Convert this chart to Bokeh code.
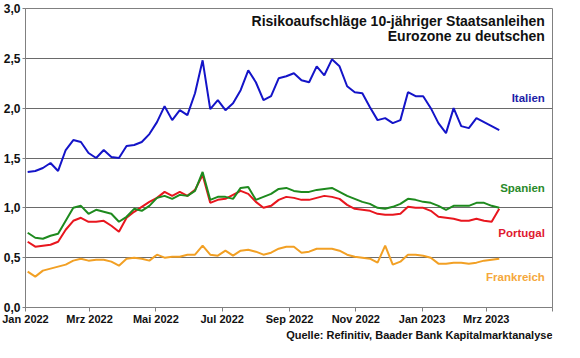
import pandas as pd
from bokeh.plotting import figure
from bokeh.layouts import column
from bokeh.models import Range1d, FixedTicker, Label, ColumnDataSource
from bokeh.embed import file_html
from bokeh.resources import INLINE

# ---- data (weekly readings, spreads in %-points) ----
dates = pd.date_range("2022-01-03", periods=63, freq="7D")

italien = [1.36, 1.37, 1.40, 1.45, 1.37, 1.58, 1.68, 1.66, 1.55, 1.50,
           1.58, 1.51, 1.50, 1.62, 1.63, 1.66, 1.74, 1.86, 2.02, 1.88,
           1.98, 1.93, 2.15, 2.48, 1.99, 2.08, 1.98, 2.05, 2.18, 2.38,
           2.26, 2.08, 2.12, 2.30, 2.32, 2.35, 2.28, 2.26, 2.42, 2.33,
           2.49, 2.42, 2.22, 2.16, 2.15, 2.01, 1.88, 1.90, 1.85, 1.88,
           2.16, 2.12, 2.12, 2.00, 1.85, 1.75, 2.00, 1.82, 1.80, 1.90,
           1.86, 1.82, 1.78]

spanien = [0.75, 0.70, 0.69, 0.72, 0.74, 0.87, 1.00, 1.02, 0.94, 0.98,
           0.96, 0.94, 0.86, 0.91, 0.99, 0.97, 1.02, 1.10, 1.12, 1.09,
           1.13, 1.12, 1.17, 1.36, 1.08, 1.11, 1.11, 1.09, 1.20, 1.21,
           1.08, 1.11, 1.14, 1.19, 1.20, 1.17, 1.16, 1.16, 1.18, 1.19,
           1.20, 1.16, 1.12, 1.09, 1.06, 1.04, 1.00, 0.99, 1.01, 1.04,
           1.09, 1.08, 1.06, 1.05, 1.02, 0.98, 1.02, 1.02, 1.02, 1.05,
           1.05, 1.02, 1.00]

portugal = [0.66, 0.61, 0.62, 0.63, 0.66, 0.78, 0.87, 0.90, 0.86, 0.86,
            0.87, 0.82, 0.76, 0.90, 0.96, 1.01, 1.06, 1.10, 1.16, 1.12,
            1.16, 1.12, 1.18, 1.33, 1.05, 1.08, 1.09, 1.13, 1.17, 1.14,
            1.06, 1.00, 1.02, 1.08, 1.11, 1.10, 1.08, 1.08, 1.10, 1.12,
            1.11, 1.09, 1.03, 0.99, 0.98, 0.97, 0.94, 0.93, 0.93, 0.94,
            1.01, 1.00, 1.00, 0.97, 0.91, 0.90, 0.89, 0.87, 0.87, 0.89,
            0.87, 0.86, 0.99]

frankreich = [0.36, 0.31, 0.37, 0.39, 0.41, 0.43, 0.47, 0.49, 0.47, 0.48,
              0.48, 0.46, 0.42, 0.49, 0.50, 0.49, 0.47, 0.53, 0.50, 0.51,
              0.51, 0.53, 0.53, 0.62, 0.53, 0.52, 0.57, 0.52, 0.57, 0.58,
              0.56, 0.53, 0.55, 0.59, 0.61, 0.61, 0.55, 0.56, 0.59, 0.59,
              0.59, 0.57, 0.53, 0.51, 0.50, 0.49, 0.45, 0.62, 0.43, 0.46,
              0.53, 0.53, 0.52, 0.50, 0.44, 0.44, 0.45, 0.45, 0.44, 0.45,
              0.47, 0.48, 0.49]

x_tick_dates = ["2022-01-01", "2022-03-01", "2022-05-01", "2022-07-01", "2022-09-01",
                "2022-11-01", "2023-01-01", "2023-03-01", "2023-05-01"]
x_tick_labels = ["Jan 2022", "Mrz 2022", "Mai 2022", "Jul 2022", "Sep 2022",
                 "Nov 2022", "Jan 2023", "Mrz 2023", ""]
y_ticks = [0.0, 0.5, 1.0, 1.5, 2.0, 2.5, 3.0]
y_tick_labels = ["0,0", "0,5", "1,0", "1,5", "2,0", "2,5", "3,0"]

title_lines = ["Risikoaufschläge 10-jähriger Staatsanleihen", "Eurozone zu deutschen"]
source_text = "Quelle: Refinitiv, Baader Bank Kapitalmarktanalyse"

series_names = ["Frankreich", "Portugal", "Spanien", "Italien"]
line_colors = ["#F2A024", "#E8161E", "#1E8A1E", "#1414C8"]
label_colors = ["#F5A83C", "#E01830", "#2A8A2A", "#1E1EA8"]
label_y = [0.31, 0.75, 1.20, 2.10]

# ---- plot ----
def ms(d):
    return pd.Timestamp(d).value / 1e6

FONT = "Liberation Sans"

p = figure(width=564, height=327, x_axis_type="datetime",
           output_backend="svg", toolbar_location=None,
           x_range=Range1d(ms("2022-01-01"), ms("2023-05-01")),
           y_range=Range1d(0, 3),
           min_border_left=22, min_border_right=12, min_border_top=8,
           min_border_bottom=18)
p.background_fill_color = "white"
p.border_fill_color = "white"
p.outline_line_color = "#808080"
p.outline_line_width = 1

src = ColumnDataSource(dict(x=dates, fr=frankreich, pt=portugal, es=spanien, it=italien))
for key, col in zip(["fr", "pt", "es", "it"], line_colors):
    p.line("x", key, source=src, line_color=col, line_width=2)

# axes
x_ticks = [ms(d) for d in x_tick_dates]
p.xaxis.ticker = FixedTicker(ticks=x_ticks)
p.xaxis.major_label_overrides = {t: l for t, l in zip(x_ticks, x_tick_labels)}
p.yaxis.ticker = FixedTicker(ticks=y_ticks)
p.yaxis.major_label_overrides = {t: l for t, l in zip(y_ticks, y_tick_labels)}

for ax in (p.xaxis, p.yaxis):
    ax.axis_line_color = "#808080"
    ax.major_tick_line_color = "#808080"
    ax.minor_tick_line_color = None
    ax.major_tick_in = 0
    ax.major_label_text_font = FONT
    ax.major_label_text_font_style = "bold"
    ax.major_label_text_color = "#111111"
p.xaxis.major_tick_out = 4
p.xaxis.major_label_text_font_size = "11px"
p.xaxis.major_label_standoff = 1
p.yaxis.major_tick_out = 3
p.yaxis.major_label_text_font_size = "12px"
p.yaxis.major_label_standoff = 2

p.xgrid.grid_line_color = None
p.ygrid.grid_line_color = "#6a6a6a"
p.ygrid.grid_line_width = 1

# title inside plot
right_x = ms("2023-04-24")
for txt, yy in zip(title_lines, [2.875, 2.725]):
    p.add_layout(Label(x=right_x, y=yy, text=txt, text_align="right",
                       text_baseline="middle", text_font=FONT,
                       text_font_style="bold", text_font_size="14px",
                       text_color="#111111"))

# series labels
for name, col, yy in zip(series_names, label_colors, label_y):
    p.add_layout(Label(x=right_x, y=yy, text=name, text_align="right",
                       text_baseline="middle", text_font=FONT,
                       text_font_style="bold", text_font_size="11.5px",
                       text_color=col))

# source line in a slim strip below
q = figure(width=564, height=15, output_backend="svg", toolbar_location=None,
           x_range=Range1d(0, 1), y_range=Range1d(0, 1),
           x_axis_location=None, y_axis_location=None,
           min_border=0)
q.outline_line_color = None
q.xgrid.grid_line_color = None
q.ygrid.grid_line_color = None
q.background_fill_color = "white"
q.border_fill_color = "white"
q.add_layout(Label(x=1, y=0.5, text=source_text, text_align="right",
                   text_baseline="middle", text_font=FONT,
                   text_font_style="bold", text_font_size="11px",
                   text_color="#111111"))

layout = column(p, q, spacing=0)
open("out.html", "w").write(file_html(layout, INLINE))
